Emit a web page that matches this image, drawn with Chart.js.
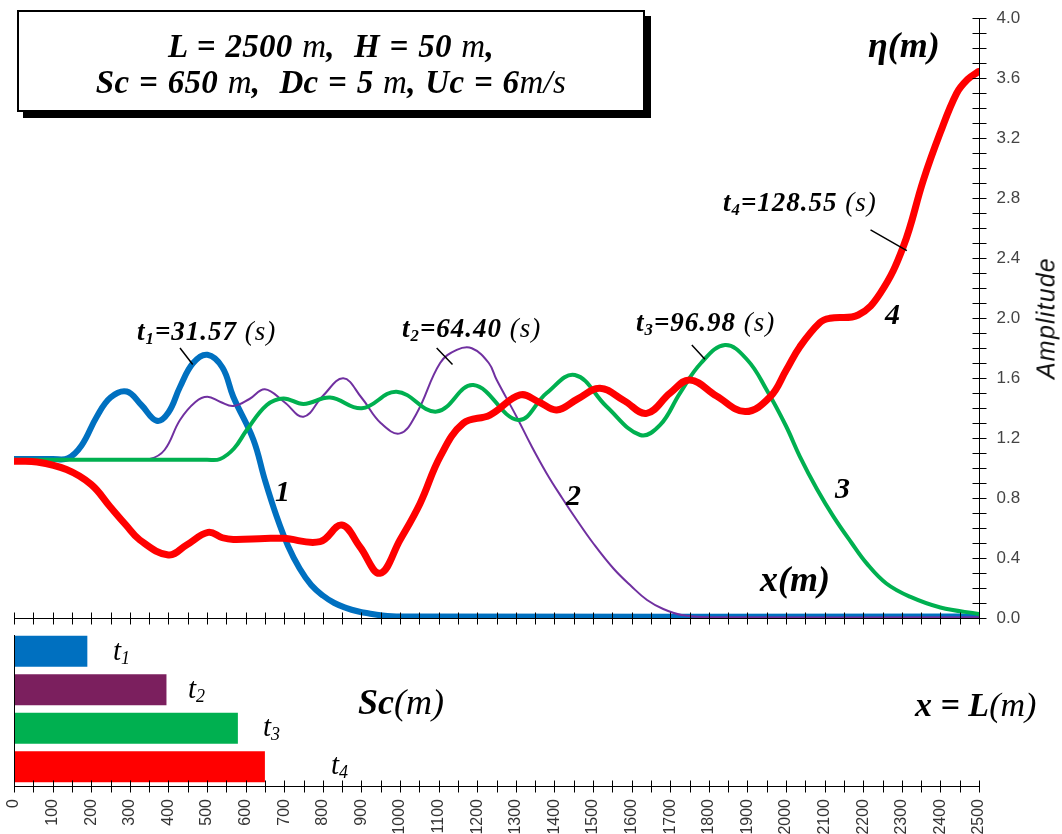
<!DOCTYPE html>
<html>
<head>
<meta charset="utf-8">
<script src="https://cdn.jsdelivr.net/npm/chart.js@4.4.0/dist/chart.umd.min.js"></script>
<style>
  html, body { margin: 0; padding: 0; background: #fff; }
  body { width: 1062px; height: 834px; overflow: hidden; position: relative; }
  canvas { position: absolute; left: 0; }
  #topChart { top: 0; }
  #scChart { top: 628px; }
  .t { position: absolute; font-family: "Liberation Serif", "Times New Roman", serif; font-style: italic;
       font-weight: bold; color: #000; white-space: nowrap; line-height: 1; }
  .t .n { font-weight: normal; }
  .t sub { font-size: 0.62em; vertical-align: -0.25em; line-height: 0; }
  .tl { letter-spacing: 1px; }
  .box { position: absolute; left: 17px; top: 10px; width: 624px; height: 98px; border: 2px solid #000;
         box-shadow: 6px 6px 0 #000; background: #fff; }
  .box div { position: absolute; left: 0; width: 100%; text-align: center; font-family: "Liberation Serif", serif;
             font-style: italic; font-weight: bold; font-size: 33px; line-height: 1; letter-spacing: 0.3px; word-spacing: 1px; }
  .box span { font-weight: normal; }
  .amp { position: absolute; left: 1046px; top: 318px; font-family: "Liberation Sans", Arial, sans-serif;
         font-style: italic; font-size: 25px; letter-spacing: 1.2px; color: #111;
         transform: translate(-50%, -50%) rotate(-90deg); white-space: nowrap; }
</style>
</head>
<body>
<canvas id="topChart" width="1062" height="640"></canvas>
<canvas id="scChart" width="1062" height="210"></canvas>

<div class="box">
  <div style="top:18px">L = 2500 <span>m</span>,&nbsp; H = 50 <span>m</span>,</div>
  <div style="top:54px">Sc = 650 <span>m</span>,&nbsp; Dc = 5 <span>m</span>, Uc = 6<span>m/s</span></div>
</div>

<div class="t" style="left:868px;top:27px;font-size:36px">η(m)</div>
<div class="t" style="left:760px;top:561px;font-size:36px">x(m)</div>
<div class="t tl" style="left:137px;top:318px;font-size:27px">t<sub>1</sub>=31.57 <span class="n">(s)</span></div>
<div class="t tl" style="left:402px;top:315px;font-size:27px">t<sub>2</sub>=64.40 <span class="n">(s)</span></div>
<div class="t tl" style="left:636px;top:309px;font-size:27px">t<sub>3</sub>=96.98 <span class="n">(s)</span></div>
<div class="t tl" style="left:723px;top:189px;font-size:27px">t<sub>4</sub>=128.55 <span class="n">(s)</span></div>
<div class="t" style="left:275px;top:476px;font-size:30px">1</div>
<div class="t" style="left:566px;top:480px;font-size:30px">2</div>
<div class="t" style="left:835px;top:473px;font-size:30px">3</div>
<div class="t" style="left:885px;top:299px;font-size:30px">4</div>
<div class="t" style="left:113px;top:636px;font-size:29px;font-weight:normal">t<sub>1</sub></div>
<div class="t" style="left:188px;top:674px;font-size:29px;font-weight:normal">t<sub>2</sub></div>
<div class="t" style="left:263px;top:712px;font-size:29px;font-weight:normal">t<sub>3</sub></div>
<div class="t" style="left:331px;top:750px;font-size:29px;font-weight:normal">t<sub>4</sub></div>
<div class="t" style="left:358px;top:684px;font-size:36px">Sc<span class="n">(m)</span></div>
<div class="t" style="left:915px;top:688px;font-size:34px">x = L<span class="n">(m)</span></div>
<div class="amp">Amplitude</div>

<script>
// x in metres, eta in metres
const curve1X = [0, 100, 140, 175, 214, 250, 292, 330, 370, 400, 430, 464, 501, 540, 568, 620, 650, 680, 710, 740, 770, 800, 830, 860, 890, 920, 950, 1000, 2500];
const curve1Y = [1.06, 1.06, 1.065, 1.15, 1.34, 1.47, 1.51, 1.42, 1.315, 1.37, 1.54, 1.70, 1.755, 1.67, 1.475, 1.19, 0.92, 0.68, 0.48, 0.33, 0.22, 0.15, 0.10, 0.068, 0.045, 0.03, 0.018, 0.01, 0.01];

const curve2X = [0, 300, 352, 390, 430, 470, 501, 535, 568, 610, 650, 700, 750, 800, 853, 900, 950, 1000, 1043, 1104, 1147, 1186, 1230, 1250, 1302, 1340, 1380, 1420, 1458, 1500, 1553, 1600, 1640, 1682, 1730, 1800, 2500];
const curve2Y = [1.06, 1.06, 1.06, 1.12, 1.32, 1.44, 1.475, 1.44, 1.413, 1.46, 1.525, 1.44, 1.342, 1.48, 1.598, 1.47, 1.30, 1.231, 1.364, 1.70, 1.787, 1.798, 1.70, 1.59, 1.342, 1.15, 0.964, 0.80, 0.653, 0.50, 0.33, 0.21, 0.12, 0.06, 0.02, 0.005, 0.005];

const curve3X = [0, 500, 534, 570, 603, 655, 698, 750, 819, 901, 991, 1095, 1190, 1306, 1380, 1453, 1535, 1622, 1674, 1725, 1780, 1842, 1900, 1950, 2000, 2036, 2080, 2123, 2170, 2209, 2260, 2321, 2400, 2500];
const curve3Y = [1.055, 1.055, 1.06, 1.13, 1.253, 1.42, 1.464, 1.427, 1.47, 1.398, 1.509, 1.376, 1.553, 1.32, 1.50, 1.62, 1.41, 1.22, 1.287, 1.498, 1.70, 1.82, 1.72, 1.52, 1.28, 1.076, 0.86, 0.676, 0.50, 0.364, 0.23, 0.142, 0.07, 0.027];

const curve4X = [0, 60, 136, 200, 249, 290, 326, 400, 447, 503, 540, 568, 650, 698, 793, 849, 896, 948, 1000, 1052, 1104, 1164, 1233, 1311, 1360, 1406, 1460, 1518, 1580, 1639, 1700, 1751, 1820, 1894, 1959, 2000, 2036, 2088, 2114, 2187, 2244, 2304, 2356, 2399, 2442, 2470, 2498];
const curve4Y = [1.045, 1.04, 0.99, 0.89, 0.742, 0.62, 0.52, 0.42, 0.487, 0.571, 0.535, 0.524, 0.53, 0.531, 0.509, 0.62, 0.475, 0.298, 0.52, 0.764, 1.076, 1.298, 1.353, 1.487, 1.44, 1.387, 1.46, 1.531, 1.45, 1.364, 1.50, 1.587, 1.48, 1.376, 1.475, 1.65, 1.809, 1.97, 1.998, 2.02, 2.164, 2.476, 2.92, 3.231, 3.498, 3.59, 3.642];

const curveColors = ["#0070C0", "#7030A0", "#00B050", "#FF0000"];
const curveWidths = [6, 2, 4, 7];

// Sc reached at each time
const scLabels = ["t1", "t2", "t3", "t4"];
const scValues = [190, 395, 580, 650];
const barColors = ["#0070C0", "#7B1F5E", "#00B050", "#FF0000"];

// leader lines from the time labels to the curves, in data units
const leaders = [
  [430, 1.80, 463, 1.69],
  [1095, 1.80, 1136, 1.69],
  [1756, 1.82, 1790, 1.725],
  [2219, 2.587, 2313, 2.449]
];

const pts = (xs, ys) => xs.map((x, i) => ({ x: x, y: ys[i] }));
const ampLabel = v => (Math.round(v * 10) % 4 === 0 ? v.toFixed(1) : "");

// axis line with tick marks crossing it
function crossTicksX(ctx, xs, y, step, half) {
  ctx.beginPath();
  ctx.moveTo(xs.left, y); ctx.lineTo(xs.right, y);
  for (let v = xs.min; v <= xs.max + 0.001; v += step) {
    const px = Math.round(xs.getPixelForValue(v)) + 0.5;
    ctx.moveTo(px, y - half); ctx.lineTo(px, y + half);
  }
  ctx.stroke();
}

const topAxes = {
  id: "topAxes",
  afterDatasetsDraw(chart) {
    const { ctx, scales: { x, y } } = chart;
    ctx.save();
    ctx.strokeStyle = "#000";
    ctx.lineWidth = 1;
    crossTicksX(ctx, x, Math.round(y.getPixelForValue(0)) + 0.5, 50, 6);
    const ax = Math.round(x.right) + 0.5;
    ctx.beginPath();
    ctx.moveTo(ax, y.getPixelForValue(0)); ctx.lineTo(ax, y.getPixelForValue(4));
    y.ticks.forEach(t => {
      const py = Math.round(y.getPixelForValue(t.value)) + 0.5;
      ctx.moveTo(ax - 7, py); ctx.lineTo(ax + 7, py);
    });
    ctx.stroke();
    // tick labels of the amplitude axis
    ctx.fillStyle = "#444";
    ctx.font = "17px 'Liberation Sans', Arial, sans-serif";
    ctx.textBaseline = "middle";
    ctx.textAlign = "left";
    y.ticks.forEach(t => {
      const s = ampLabel(t.value);
      if (s) ctx.fillText(s, ax + 17, y.getPixelForValue(t.value));
    });
    ctx.lineWidth = 1.5;
    ctx.beginPath();
    leaders.forEach(l => {
      ctx.moveTo(x.getPixelForValue(l[0]), y.getPixelForValue(l[1]));
      ctx.lineTo(x.getPixelForValue(l[2]), y.getPixelForValue(l[3]));
    });
    ctx.stroke();
    ctx.restore();
  }
};

const botAxes = {
  id: "botAxes",
  afterDatasetsDraw(chart) {
    const { ctx, chartArea, scales: { x } } = chart;
    ctx.save();
    ctx.strokeStyle = "#000";
    ctx.lineWidth = 1;
    crossTicksX(ctx, x, Math.round(chartArea.bottom) + 0.5, 50, 6);
    ctx.beginPath();
    const lx = Math.round(chartArea.left) + 0.5;
    ctx.moveTo(lx, chartArea.top + 3); ctx.lineTo(lx, chartArea.bottom);
    ctx.stroke();
    ctx.restore();
  }
};

new Chart(document.getElementById("topChart"), {
  type: "line",
  data: {
    datasets: [
      { data: pts(curve4X, curve4Y), borderColor: curveColors[3], borderWidth: curveWidths[3] },
      { data: pts(curve3X, curve3Y), borderColor: curveColors[2], borderWidth: curveWidths[2] },
      { data: pts(curve2X, curve2Y), borderColor: curveColors[1], borderWidth: curveWidths[1] },
      { data: pts(curve1X, curve1Y), borderColor: curveColors[0], borderWidth: curveWidths[0] }
    ]
  },
  options: {
    responsive: false,
    animation: false,
    events: [],
    layout: { padding: { left: 14, top: 18, right: 0, bottom: 10 } },
    elements: {
      point: { radius: 0 },
      line: { tension: 0.4, borderCapStyle: "round", borderJoinStyle: "round" }
    },
    plugins: { legend: { display: false }, tooltip: { enabled: false } },
    scales: {
      x: {
        type: "linear", min: 0, max: 2500,
        grid: { display: false }, border: { display: false },
        ticks: { display: false },
        afterFit: s => { s.height = 12; }
      },
      y: {
        position: "right", min: 0, max: 4,
        grid: { display: false, drawTicks: false }, border: { display: false },
        ticks: { display: false, stepSize: 0.1, autoSkip: false },
        afterFit: s => { s.width = 83; }
      }
    }
  },
  plugins: [topAxes]
});

new Chart(document.getElementById("scChart"), {
  type: "bar",
  data: {
    labels: scLabels,
    datasets: [{ data: scValues, backgroundColor: barColors, barPercentage: 0.9, categoryPercentage: 0.9 }]
  },
  options: {
    indexAxis: "y",
    responsive: false,
    animation: false,
    events: [],
    layout: { padding: { left: 14, top: 4, right: 83, bottom: 0 } },
    plugins: { legend: { display: false }, tooltip: { enabled: false } },
    scales: {
      x: {
        type: "linear", min: 0, max: 2500,
        grid: { display: false, drawTicks: false }, border: { display: false },
        ticks: {
          stepSize: 50, autoSkip: false, minRotation: 90, maxRotation: 90, padding: 13, color: "#333",
          font: { family: "Liberation Sans", size: 16 },
          callback: v => (v % 100 === 0 ? String(v) : "")
        },
        afterFit: s => { s.height = 52; }
      },
      y: { display: false }
    }
  },
  plugins: [botAxes]
});
</script>
</body>
</html>
